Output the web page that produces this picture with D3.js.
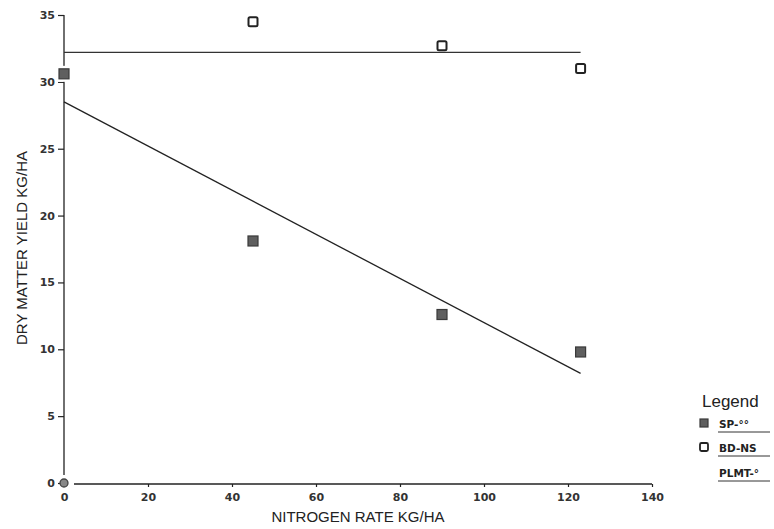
<!DOCTYPE html>
<html><head><meta charset="utf-8">
<script src="https://cdn.jsdelivr.net/npm/d3@7"></script>
<style>body{margin:0;background:#fff;} svg{display:block;}</style>
</head><body>
<script>
const xRates = [0, 45, 90, 123];
const spYield = [30.6, 18.1, 12.6, 9.8];
const bdYield = [30.6, 34.5, 32.7, 31.0];
const plmtPoints = [[0, 0]];
const spFit = [[0, 28.5], [123, 8.2]];
const bdFit = [[0, 32.2], [123, 32.2]];
const xTicks = [0, 20, 40, 60, 80, 100, 120, 140];
const yTicks = [0, 5, 10, 15, 20, 25, 30, 35];
const legendItems = ["SP-°°", "BD-NS", "PLMT-°"];

const W = 774, H = 529;
const svg = d3.select("body").append("svg").attr("width", W).attr("height", H);
const x = d3.scaleLinear().domain([0, 140]).range([64, 652]);
const y = d3.scaleLinear().domain([0, 35]).range([483, 15]);
const ink = "#222";
const tickFont = "'DejaVu Sans', sans-serif";

// Y axis
const yAx = svg.append("g").attr("transform", `translate(${x(0)},0)`)
  .call(d3.axisLeft(y).tickValues(yTicks).tickSize(6).tickPadding(3));
yAx.select(".domain").attr("d", `M0,${y(35)}V${y(0) - 8}`).attr("stroke", ink).attr("stroke-width", 1.3);
yAx.selectAll(".tick line").attr("stroke", ink).attr("stroke-width", 1.2);
yAx.selectAll(".tick text").attr("font-family", tickFont).attr("font-size", 11).attr("font-weight", "bold").attr("fill", "#333");

// X axis
const xAx = svg.append("g").attr("transform", `translate(0,${y(0) + 1})`)
  .call(d3.axisBottom(x).tickValues(xTicks).tickSize(3).tickPadding(6));
xAx.select(".domain").attr("d", `M${x(0) + 10},0H${x(140)}`).attr("stroke", ink).attr("stroke-width", 1.3);
xAx.selectAll(".tick line").attr("stroke", ink).attr("stroke-width", 1.2);
xAx.selectAll(".tick").filter(d => d === 0).select("line").remove();
xAx.selectAll(".tick text").attr("font-family", tickFont).attr("font-size", 11).attr("font-weight", "bold").attr("fill", "#333");

// Axis titles
svg.append("text").attr("x", 358).attr("y", 522).attr("text-anchor", "middle")
  .attr("font-family", "'Liberation Sans', sans-serif").attr("font-size", 15).attr("fill", "#222")
  .text("NITROGEN RATE KG/HA");
svg.append("text").attr("transform", `translate(27,248) rotate(-90)`).attr("text-anchor", "middle")
  .attr("font-family", "'Liberation Sans', sans-serif").attr("font-size", 15).attr("fill", "#222")
  .text("DRY MATTER YIELD KG/HA");

// Fit lines
const line = d3.line().x(d => x(d[0])).y(d => y(d[1]));
svg.append("path").datum(bdFit).attr("d", line).attr("fill", "none").attr("stroke", "#333").attr("stroke-width", 1.2);
svg.append("path").datum(spFit).attr("d", line).attr("fill", "none").attr("stroke", "#222").attr("stroke-width", 1.3);

// BD-NS open squares
const s = 9;
svg.selectAll(".bd").data(xRates.map((v, i) => [v, bdYield[i]])).enter().append("rect")
  .attr("x", d => x(d[0]) - s / 2).attr("y", d => y(d[1]) - s / 2).attr("width", s).attr("height", s)
  .attr("rx", 1.5).attr("fill", "#fff").attr("stroke", "#222").attr("stroke-width", 2);

// SP filled squares (white halo breaks the axis line as in the reference)
const f = 10;
const spData = xRates.map((v, i) => [v, spYield[i]]);
svg.selectAll(".sph").data(spData).enter().append("rect")
  .attr("x", d => x(d[0]) - f / 2 - 3).attr("y", d => y(d[1]) - f / 2 - 3).attr("width", f + 6).attr("height", f + 6)
  .attr("fill", "#fff");
svg.selectAll(".sp").data(spData).enter().append("rect")
  .attr("x", d => x(d[0]) - f / 2).attr("y", d => y(d[1]) - f / 2).attr("width", f).attr("height", f)
  .attr("fill", "#5f5f5f").attr("stroke", "#3a3a3a").attr("stroke-width", 1.2);

// PLMT point
svg.selectAll(".pl").data(plmtPoints).enter().append("circle")
  .attr("cx", d => x(d[0])).attr("cy", d => y(d[1])).attr("r", 4)
  .attr("fill", "#888").attr("stroke", "#444").attr("stroke-width", 1.3);

// Legend
svg.append("text").attr("x", 702).attr("y", 407).attr("font-family", "'Liberation Sans', sans-serif")
  .attr("font-size", 17).attr("fill", "#222").text("Legend");
const ly = [428, 452, 477];
legendItems.forEach((t, i) => {
  if (i === 0) svg.append("rect").attr("x", 700).attr("y", ly[i] - 9).attr("width", 8).attr("height", 8)
      .attr("fill", "#5f5f5f").attr("stroke", "#3a3a3a").attr("stroke-width", 1.2);
  if (i === 1) svg.append("rect").attr("x", 700).attr("y", ly[i] - 9).attr("width", 8).attr("height", 8)
      .attr("rx", 1.5).attr("fill", "#fff").attr("stroke", "#222").attr("stroke-width", 1.8);
  svg.append("text").attr("x", 719).attr("y", ly[i]).attr("font-family", tickFont)
    .attr("font-size", 10.5).attr("font-weight", "bold").attr("fill", "#222").text(t);
  svg.append("line").attr("x1", 718).attr("x2", 770).attr("y1", ly[i] + 4).attr("y2", ly[i] + 4)
    .attr("stroke", "#333").attr("stroke-width", 1);
});
</script>
</body></html>
